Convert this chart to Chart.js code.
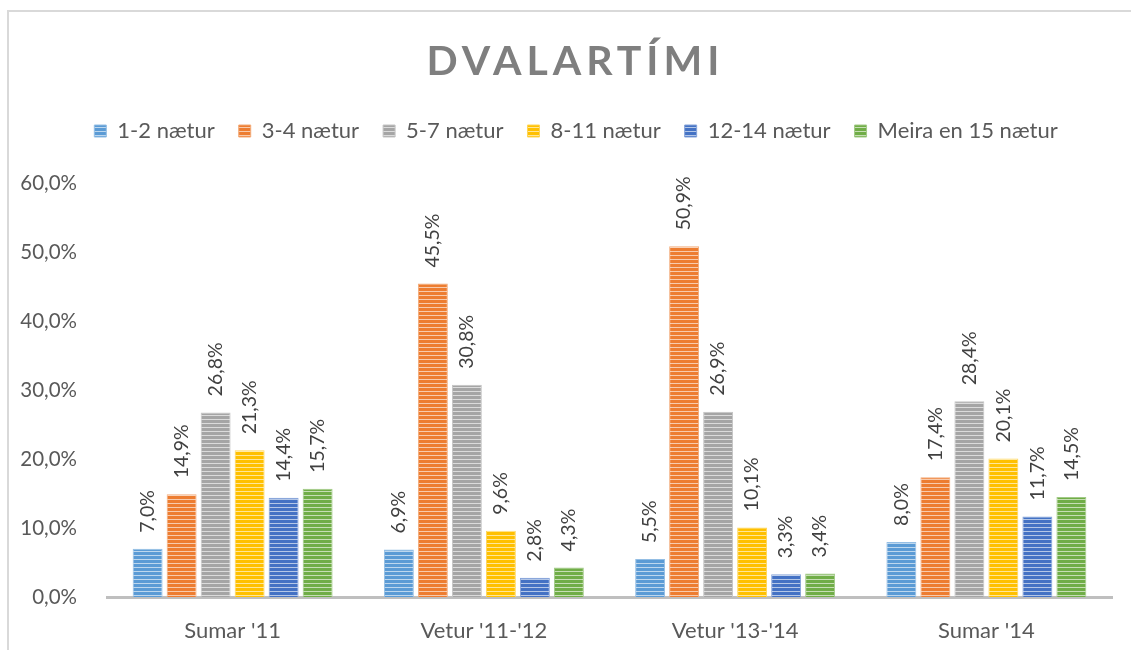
<!DOCTYPE html>
<html lang="is">
<head>
<meta charset="UTF-8">
<title>Dvalartími</title>
<script src="https://cdn.jsdelivr.net/npm/chart.js"></script>
<style>
  html, body { margin: 0; padding: 0; background: #fff; overflow: hidden; }
  .frame { position: absolute; left: 7px; top: 10px; width: 1200px; height: 700px; border: 2px solid #d9d9d9; }
  #graf { position: absolute; left: 0; top: 0; }
</style>
</head>
<body>
<div class="frame"></div>
<canvas id="graf" width="1131" height="650"></canvas>
<script>
  // gögn
  const timabil = ["Sumar '11", "Vetur '11-'12", "Vetur '13-'14", "Sumar '14"];
  const flokkar = ['1-2 nætur', '3-4 nætur', '5-7 nætur', '8-11 nætur', '12-14 nætur', 'Meira en 15 nætur'];
  const n1_2   = [7.0, 6.9, 5.5, 8.0];
  const n3_4   = [14.9, 45.5, 50.9, 17.4];
  const n5_7   = [26.8, 30.8, 26.9, 28.4];
  const n8_11  = [21.3, 9.6, 10.1, 20.1];
  const n12_14 = [14.4, 2.8, 3.3, 11.7];
  const n15    = [15.7, 4.3, 3.4, 14.5];
  const litir  = ['#5B9BD5', '#ED7D31', '#A5A5A5', '#FFC000', '#4472C4', '#70AD47'];

  function ljos(hex, t) {
    const r = parseInt(hex.slice(1, 3), 16), g = parseInt(hex.slice(3, 5), 16), b = parseInt(hex.slice(5, 7), 16);
    const m = (c) => Math.round(c + (255 - c) * t);
    return `rgb(${m(r)},${m(g)},${m(b)})`;
  }

  // láréttar rendur í súlunum
  function rendur(hex) {
    const c = document.createElement('canvas');
    c.width = 4; c.height = 4;
    const g = c.getContext('2d');
    g.fillStyle = hex; g.fillRect(0, 0, 4, 4);
    g.fillStyle = ljos(hex, 0.6); g.fillRect(0, 3, 4, 1);
    return g.createPattern(c, 'repeat');
  }

  const prosent = (v) => v.toFixed(1).replace('.', ',') + '%';

  const titill = {
    id: 'titill',
    afterDraw(chart) {
      const ctx = chart.ctx;
      ctx.save();
      ctx.font = 'bold 41px Lato';
      ctx.letterSpacing = '5px';
      ctx.fillStyle = '#7f7f7f';
      ctx.textAlign = 'center';
      ctx.textBaseline = 'middle';
      ctx.fillText('DVALARTÍMI', 573 + 2.5, 62);
      ctx.restore();
    }
  };

  // skýringarnar aðeins til hægri, eins og í Excel
  const faera = {
    id: 'faera',
    afterLayout(chart) {
      chart.legend.left += 15;
      chart.legend.right += 15;
    }
  };

  const gildi = {
    id: 'gildi',
    afterDatasetsDraw(chart) {
      const ctx = chart.ctx;
      ctx.save();
      ctx.font = '19.5px Lato';
      ctx.fillStyle = '#404040';
      ctx.textAlign = 'left';
      ctx.textBaseline = 'middle';
      chart.data.datasets.forEach((ds, i) => {
        chart.getDatasetMeta(i).data.forEach((bar, j) => {
          ctx.save();
          ctx.translate(bar.x, bar.y - 16);
          ctx.rotate(-Math.PI / 2);
          ctx.fillText(prosent(ds.data[j]), 0, 0);
          ctx.restore();
        });
      });
      ctx.restore();
    }
  };

  const radir = [n1_2, n3_4, n5_7, n8_11, n12_14, n15];
  const datasets = radir.map((d, i) => ({
    label: flokkar[i],
    data: d,
    backgroundColor: rendur(litir[i]),
    borderColor: ljos(litir[i], 0.35),
    borderWidth: 1,
    barPercentage: 0.88,
    categoryPercentage: 0.812
  }));

  new Chart(document.getElementById('graf'), {
    type: 'bar',
    data: { labels: timabil, datasets: datasets },
    options: {
      responsive: false,
      animation: false,
      layout: { padding: { top: 96, left: 10, right: 19, bottom: 0 } },
      plugins: {
        legend: {
          position: 'top',
          labels: {
            boxWidth: 12, boxHeight: 12, padding: 24,
            color: '#595959', font: { family: 'Lato', size: 22 }
          }
        },
        tooltip: { enabled: false }
      },
      scales: {
        x: {
          grid: { display: false },
          border: { color: '#bfbfbf', width: 3 },
          ticks: { color: '#595959', font: { family: 'Lato', size: 22 }, padding: 13 },
          afterFit(s) { s.height = 53; }
        },
        y: {
          min: 0, max: 64.6,
          grid: { display: false },
          border: { display: false },
          ticks: {
            stepSize: 10, padding: 22, color: '#595959',
            font: { family: 'Lato', size: 20.5 },
            callback: (v) => prosent(v)
          },
          afterBuildTicks(s) { s.ticks = s.ticks.filter(t => t.value <= 60.001); },
          afterFit(s) { s.width = 97; }
        }
      }
    },
    plugins: [titill, faera, gildi]
  });
</script>
</body>
</html>
